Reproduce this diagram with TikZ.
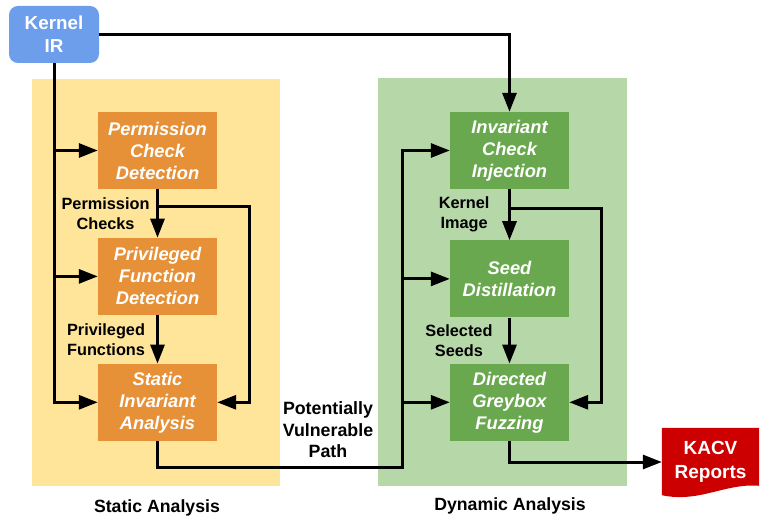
\documentclass[tikz,border=0pt]{standalone}
\usepackage{fontspec}
\setmainfont{Liberation Sans}
\usetikzlibrary{positioning,arrows.meta,backgrounds,calc}
\definecolor{kernelblue}{HTML}{6D9EEB}
\definecolor{staticyellow}{HTML}{FFE599}
\definecolor{staticorange}{HTML}{E69138}
\definecolor{dynamiclight}{HTML}{B6D7A8}
\definecolor{dynamicgreen}{HTML}{6AA84F}
\definecolor{reportred}{HTML}{CC0000}

\begin{document}
\begin{tikzpicture}[x=1pt,y=-1pt]
    \tikzset{
      box/.style = {minimum width=119pt, minimum height=77pt, inner sep=0pt, align=center, text=white,
        font=\fontsize{18.3}{22}\selectfont\bfseries\itshape},
      static box/.style = {box, fill=staticorange},
      dynamic box/.style = {box, fill=dynamicgreen},
      flow/.style = {line width=3pt, -{Triangle[length=19pt,width=14pt]}},
      edge text/.style = {inner sep=0pt, align=center, font=\fontsize{16.3}{20}\selectfont\bfseries},
      region text/.style = {inner sep=0pt, font=\fontsize{17.7}{21.5}\selectfont\bfseries},
    }
    \useasboundingbox (0,0) rectangle (767,526);

    \fill[staticyellow] (32,79) rectangle (280,486);
    \fill[dynamiclight] (378,78) rectangle (627,486);
    \node[region text] (static label) at (157,508) {Static Analysis};
    \node[region text] (dynamic label) at (510,506) {Dynamic Analysis};

    \node[fill=kernelblue, rounded corners=9pt, minimum width=90pt, minimum height=57pt, inner sep=0pt,
        align=center, text=white, font=\fontsize{18.8}{23}\selectfont\bfseries] (kernel ir) at (54,34.5) {Kernel\\IR};

    \node[static box] (perm check) at (157.5,150.5) {Permission\\Check\\Detection};
    \node[static box, below=48.5pt of perm check] (priv func) {Privileged\\Function\\Detection};
    \node[static box, below=48.5pt of priv func] (static inv) {Static\\Invariant\\Analysis};

    \node[dynamic box] (inj check) at (509.5,150.5) {Invariant\\Check\\Injection};
    \node[dynamic box, below=51pt of inj check] (seed dist) {Seed\\Distillation};
    \node[dynamic box, below=46pt of seed dist] (greybox fuzz) {Directed\\Greybox\\Fuzzing};

    \node[minimum width=97pt, minimum height=68pt, inner sep=0pt, align=center, text=white,
        font=\fontsize{19}{24}\selectfont\bfseries] (kacv) at (710.5,462) {KACV\\Reports};
    \begin{scope}[on background layer]
        \fill[reportred] (kacv.north west) -- (kacv.north east) -- ($(kacv.north east)+(0,58)$)
            .. controls ($(kacv.north east)+(-34,55)$) and ($(kacv.south west)+(38,7)$) .. ($(kacv.south west)+(0,-1)$) -- cycle;
    \end{scope}

    \node[edge text, font=\fontsize{17.8}{21.5}\selectfont\bfseries] (vuln path) at (328,430) {Potentially\\Vulnerable\\Path};

    \foreach \b in {perm check, priv func, static inv}
        \draw[flow] (kernel ir.south) |- (\b.west);
    \draw[flow] (kernel ir.east) -| (inj check.north);

    \draw[flow] (perm check) -- node[edge text, left=6.5pt] {Permission\\Checks} (priv func);
    \draw[flow] (priv func) -- node[edge text, left=11pt] {Privileged\\Functions} (static inv);
    \draw[flow] (perm check.south) |- ++(92,17) |- (static inv.east);

    \foreach \b in {inj check, seed dist, greybox fuzz}
        \draw[flow] (static inv.south) |- ++(245,26) |- (\b.west);

    \draw[flow] (inj check) -- node[edge text, left=18.5pt] {Kernel\\Image} (seed dist);
    \draw[flow] (seed dist) -- node[edge text, left=15.5pt] {Selected\\Seeds} (greybox fuzz);
    \draw[flow] (inj check.south) |- ++(92,19) |- (greybox fuzz.east);
    \draw[flow] (greybox fuzz.south) |- (kacv.west);
\end{tikzpicture}
\end{document}
